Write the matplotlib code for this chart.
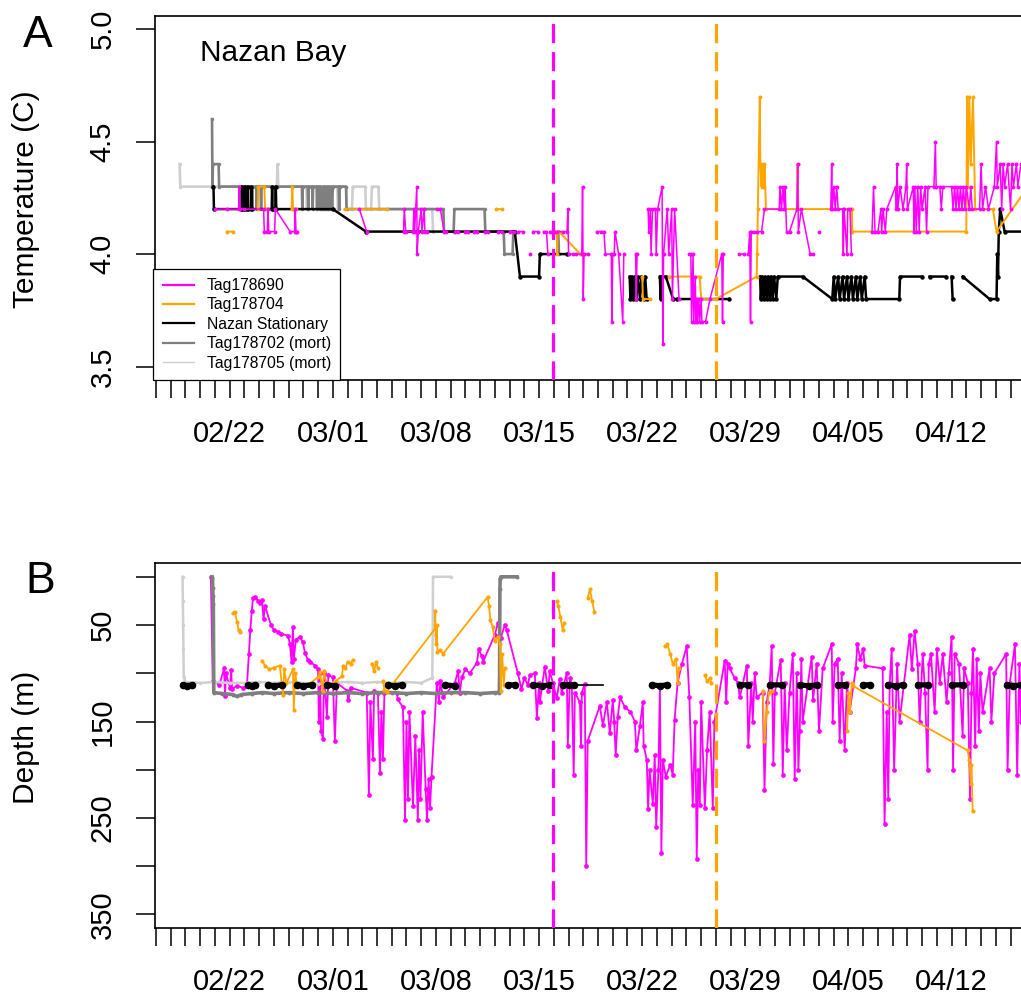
import numpy as np
import matplotlib
matplotlib.use("Agg")
import matplotlib.pyplot as plt
from matplotlib.lines import Line2D

plt.rcParams['font.family'] = ['Liberation Sans', 'DejaVu Sans']

nan = np.nan

# time axis: days since 2017-02-17
start = np.datetime64('2017-02-17')
week_labels = ['02/22', '03/01', '03/08', '03/15', '03/22', '03/29', '04/05', '04/12']
tag_release = {'Tag178690': 26.95, 'Tag178704': 38.0}

# ---- temperature (C), (day, value) ----
lgray_temp = [(1.60, 4.4), (1.65, 4.3), (8.20, 4.3), (8.25, 4.4), (8.30, 4.3), (10.2, 4.3), (10.25, 4.2),
              (10.3, 4.3), (11.5, 4.3), (11.55, 4.2), (11.6, 4.3), (12.3, 4.3), (12.35, 4.2), (12.45, 4.3),
              (12.9, 4.3), (12.95, 4.2), (13.3, 4.2), (13.35, 4.3), (14.2, 4.3), (14.25, 4.2), (14.6, 4.2),
              (14.65, 4.3), (15.1, 4.3), (15.15, 4.2), (18.75, 4.2), (18.8, 4.1)]

dgray_temp = [(3.80, 4.6), (3.83, 4.3), (3.86, 4.4), (4.25, 4.4), (4.28, 4.3), (5.9, 4.3), (5.93, 4.2),
              (5.96, 4.3), (6.2, 4.3), (6.23, 4.2), (6.26, 4.3), (6.5, 4.3), (6.53, 4.2), (6.56, 4.3),
              (6.8, 4.3), (6.83, 4.2), (6.86, 4.3), (7.1, 4.3), (7.13, 4.2), (7.16, 4.3), (9.9, 4.3),
              (9.93, 4.2), (9.96, 4.3), (10.3, 4.3), (10.33, 4.2), (10.36, 4.3), (10.6, 4.3), (10.63, 4.2),
              (10.66, 4.3), (10.9, 4.3), (10.93, 4.2), (10.96, 4.3), (11.1, 4.3), (11.13, 4.2), (11.16, 4.3),
              (11.25, 4.2), (11.3, 4.3), (11.35, 4.2), (11.4, 4.3), (11.45, 4.2), (11.5, 4.3), (11.55, 4.2),
              (11.6, 4.3), (11.65, 4.2), (11.7, 4.3), (11.75, 4.2), (11.8, 4.3), (11.85, 4.2), (11.9, 4.3),
              (11.95, 4.2), (12.0, 4.3), (12.4, 4.3), (12.43, 4.2), (12.46, 4.3), (12.9, 4.3), (12.93, 4.2),
              (19.5, 4.2), (19.55, 4.1), (20.2, 4.1), (20.25, 4.2), (22.3, 4.2), (22.35, 4.1), (23.6, 4.1),
              (23.65, 4.0), (24.2, 4.0), (24.25, 4.1), (24.3, 4.1), (nan, nan), (27.3, 4.1), (27.35, 4.0)]

blk_temp = [(3.9, 4.3), (3.93, 4.2), (5.8, 4.2), (5.83, 4.3), (5.86, 4.2), (6.0, 4.2), (6.03, 4.3),
            (6.06, 4.2), (6.2, 4.2), (6.23, 4.3), (6.26, 4.2), (6.45, 4.2), (6.48, 4.3), (6.51, 4.2),
            (7.85, 4.2), (7.88, 4.3), (7.91, 4.2), (8.1, 4.2), (8.13, 4.3), (8.16, 4.2), (12.0, 4.2),
            (14.25, 4.1), (24.35, 4.1), (24.7, 3.9), (26.0, 3.9), (26.05, 4.0), (27.9, 4.0), (nan, nan),
            (32.15, 3.9), (32.2, 3.8), (32.3, 3.9), (32.4, 3.8), (32.5, 3.9), (32.6, 3.8), (32.7, 3.9),
            (32.85, 3.8), (32.95, 3.9), (33.1, 3.8), (33.2, 3.9), (33.3, 3.8), (nan, nan),
            (34.2, 3.9), (34.25, 3.8), (34.3, 3.9), (34.6, 3.9), (35.1, 3.8), (35.35, 3.8), (38.9, 3.8),
            (nan, nan), (41.0, 3.9), (41.05, 3.8), (41.15, 3.9), (41.25, 3.8), (41.35, 3.9), (41.45, 3.8),
            (41.55, 3.9), (41.65, 3.8), (41.75, 3.9), (41.85, 3.8), (41.95, 3.9), (42.1, 3.8), (42.2, 3.9),
            (43.9, 3.9), (45.9, 3.8), (46.0, 3.9), (46.1, 3.8), (46.3, 3.9), (46.4, 3.8), (46.6, 3.9),
            (46.7, 3.8), (46.9, 3.9), (47.0, 3.8), (47.2, 3.9), (47.3, 3.8), (47.5, 3.9), (47.6, 3.8),
            (47.8, 3.9), (47.9, 3.8), (48.1, 3.9), (48.2, 3.8), (50.45, 3.8), (50.5, 3.9), (52.0, 3.9),
            (nan, nan), (52.5, 3.9), (53.6, 3.9), (nan, nan), (54.0, 3.9), (54.07, 3.8), (nan, nan),
            (54.75, 3.9), (56.58, 3.8), (57.05, 3.8), (57.1, 4.0), (57.15, 3.9), (57.2, 4.1), (57.3, 4.2),
            (57.6, 4.1), (59.2, 4.1)]

org_temp = [(4.8, 4.1), (5.2, 4.1), (nan, nan), (6.9, 4.2), (6.95, 4.3), (7.35, 4.3), (7.4, 4.2),
            (7.5, 4.2), (nan, nan), (9.2, 4.2), (9.25, 4.3), (9.3, 4.2), (9.5, 4.2), (nan, nan),
            (12.8, 4.2), (15.7, 4.2), (nan, nan), (23.1, 4.2), (23.5, 4.2), (nan, nan),
            (27.05, 4.1), (27.2, 4.1), (27.22, 4.0), (27.25, 4.1), (27.35, 4.1), (28.8, 4.0), (29.1, 4.0),
            (nan, nan), (33.0, 3.9), (33.05, 3.8), (33.5, 3.8), (nan, nan), (34.8, 3.9), (36.9, 3.9),
            (37.0, 3.8), (38.0, 3.8), (40.77, 3.9), (40.8, 4.0), (40.85, 4.2), (40.98, 4.7), (41.02, 4.4),
            (41.1, 4.3), (41.15, 4.4), (41.25, 4.3), (41.3, 4.4), (41.4, 4.2), (43.5, 4.2), (43.55, 4.4),
            (43.6, 4.2), (47.15, 4.2), (47.2, 4.1), (47.22, 4.2), (47.27, 4.1), (55.0, 4.1), (55.05, 4.7),
            (55.1, 4.3), (55.2, 4.7), (55.3, 4.4), (55.45, 4.7), (55.6, 4.2), (56.8, 4.2), (57.05, 4.1),
            (59.2, 4.3)]

mag_temp = [(4.0, 4.2), (4.8, 4.2), (5.6, 4.2), (5.65, 4.3), (5.7, 4.2), (6.0, 4.2),
            (7.3, 4.2), (7.35, 4.1), (7.55, 4.1), (7.6, 4.2), (7.65, 4.1), (8.05, 4.1), (8.1, 4.2),
            (9.1, 4.1), (9.4, 4.1), (9.45, 4.2), (9.5, 4.1), (9.6, 4.1), (nan, nan),
            (13.8, 4.2), (14.3, 4.1), (nan, nan),
            (16.8, 4.1), (16.85, 4.2), (16.95, 4.1), (17.45, 4.1), (17.5, 4.2), (17.55, 4.1), (17.7, 4.3),
            (17.72, 4.0), (17.8, 4.1), (18.0, 4.2), (18.05, 4.1), (18.2, 4.2), (18.25, 4.1), (18.4, 4.1),
            (nan, nan), (19.06, 4.2), (19.3, 4.2), (19.55, 4.1), (19.7, 4.1), (nan, nan),
            (20.3, 4.1), (20.5, 4.1), (nan, nan), (21.0, 4.1), (21.2, 4.1), (nan, nan),
            (21.6, 4.1), (21.8, 4.1), (nan, nan), (22.3, 4.1), (22.5, 4.1), (nan, nan),
            (23.2, 4.1), (23.5, 4.1), (nan, nan), (24.0, 4.1), (24.3, 4.1), (nan, nan),
            (24.6, 4.1), (24.9, 4.1), (nan, nan), (25.37, 4.0), (nan, nan), (25.6, 4.1), (25.9, 4.1),
            (nan, nan), (26.3, 4.1), (26.5, 4.1), (26.6, 4.0), (nan, nan), (26.75, 4.1), (27.0, 4.1),
            (27.2, 4.1), (27.6, 4.1), (27.9, 4.1), (27.95, 4.2), (28.0, 4.0), (28.3, 4.0), (28.5, 4.0),
            (28.9, 4.0), (28.95, 4.3), (29.0, 3.8), (29.05, 4.0), (29.3, 4.0), (nan, nan),
            (29.9, 4.1), (30.2, 4.1), (30.4, 4.1), (30.5, 4.0), (30.9, 4.0), (30.94, 3.7), (31.0, 4.0),
            (31.1, 4.0), (31.15, 4.1), (31.4, 4.0), (31.68, 3.7), (31.75, 4.0), (nan, nan),
            (32.55, 4.0), (32.6, 3.8), (32.65, 4.0), (nan, nan),
            (33.4, 4.2), (33.45, 4.1), (33.55, 4.2), (33.6, 4.0), (33.7, 4.2), (33.9, 4.2), (33.95, 4.0),
            (34.05, 4.2), (34.35, 4.3), (34.4, 3.6), (34.45, 4.0), (34.7, 4.2), (34.8, 4.0), (35.0, 4.2),
            (35.05, 3.8), (35.2, 4.2), (35.5, 3.8), (nan, nan),
            (36.2, 4.0), (36.3, 4.0), (36.35, 3.7), (36.45, 4.0), (36.5, 3.7), (36.6, 3.9), (36.65, 3.7),
            (36.7, 3.8), (36.75, 3.7), (36.85, 3.8), (36.9, 3.7), (37.0, 3.8), (37.05, 3.7), (37.3, 3.7),
            (37.6, 3.8), (38.4, 4.0), (38.45, 3.7), (38.5, 4.0), (nan, nan),
            (39.6, 4.0), (39.9, 4.0), (nan, nan), (40.2, 4.0), (40.3, 4.1), (40.35, 3.7), (40.4, 4.1),
            (40.6, 4.1), (nan, nan), (40.8, 4.1), (41.1, 4.1), (41.3, 4.2), (42.3, 4.2), (42.35, 4.3),
            (42.45, 4.2), (42.55, 4.3), (42.65, 4.2), (42.7, 4.3), (42.8, 4.1), (43.0, 4.1), (43.5, 4.2),
            (43.55, 4.4), (43.6, 4.1), (43.8, 4.2), (44.4, 4.0), (44.6, 4.0), (nan, nan),
            (45.0, 4.1), (nan, nan),
            (45.8, 4.2), (45.86, 4.4), (45.9, 4.2), (46.0, 4.3), (46.1, 4.2), (46.2, 4.3), (46.3, 4.2),
            (46.6, 4.2), (46.65, 4.0), (46.7, 4.2), (46.9, 4.0), (46.95, 4.2), (47.1, 4.2), (47.2, 4.0),
            (nan, nan), (48.6, 4.1), (48.7, 4.3), (48.8, 4.1), (49.0, 4.1), (49.2, 4.2), (49.25, 4.1),
            (49.35, 4.2), (49.5, 4.1), (49.6, 4.2), (50.2, 4.3), (50.25, 4.2), (50.3, 4.4), (50.35, 4.2),
            (50.5, 4.3), (50.7, 4.2), (50.9, 4.3), (50.95, 4.4), (51.0, 4.2), (51.4, 4.3), (51.45, 4.1),
            (51.5, 4.3), (51.6, 4.1), (51.7, 4.3), (51.8, 4.1), (51.9, 4.3), (52.0, 4.2), (52.2, 4.3),
            (52.3, 4.1), (52.4, 4.3), (52.8, 4.3), (52.9, 4.5), (52.95, 4.3), (53.2, 4.3), (53.3, 4.2),
            (53.4, 4.3), (54.0, 4.3), (54.1, 4.2), (54.2, 4.3), (54.3, 4.2), (54.4, 4.3), (54.5, 4.2),
            (54.6, 4.3), (54.7, 4.2), (54.8, 4.3), (54.9, 4.2), (55.0, 4.3), (55.2, 4.2), (55.3, 4.3),
            (55.4, 4.2), (55.9, 4.2), (56.0, 4.4), (56.1, 4.2), (56.3, 4.3), (56.5, 4.2), (56.9, 4.3),
            (57.05, 4.5), (57.1, 4.3), (57.3, 4.4), (57.4, 4.2), (57.5, 4.4), (57.6, 4.3), (57.8, 4.4),
            (58.0, 4.2), (58.1, 4.4), (58.2, 4.3), (58.4, 4.4), (58.5, 4.3), (58.7, 4.4)]

# ---- depth (m), (day, value) ----
lgray_depth = [(1.80, 0), (1.82, 25), (1.84, 50), (1.86, 75), (1.88, 104), (2.0, 109), (3.0, 110), (4.0, 109),
               (5.0, 110), (6.0, 110), (7.0, 109), (8.0, 110), (9.0, 109), (10.0, 110), (11.0, 111),
               (12.0, 110), (13.0, 109), (14.0, 110), (15.0, 109), (16.0, 110), (17.0, 109), (18.0, 110),
               (18.7, 105), (18.75, 104), (18.78, 60), (18.8, 0), (20.0, 0)]

dgray_depth = [(3.8, 0), (3.83, 2), (3.85, 12), (3.87, 20), (3.89, 28), (3.92, 120), (4.5, 121), (5.2, 122),
               (5.5, 124), (5.8, 122), (6.5, 121), (7.2, 120), (8.0, 121), (9.0, 120), (10.0, 121),
               (11.0, 120), (12.0, 121), (13.0, 120), (14.0, 121), (15.0, 120), (16.0, 120), (17.0, 121),
               (18.0, 120), (19.0, 121), (20.0, 120), (21.0, 120), (22.0, 121), (23.0, 120), (23.3, 120),
               (23.32, 100), (23.34, 13), (23.36, 2), (23.4, 0), (24.5, 0)]

blk_depth = [(1.83, 112), (2.1, 113), (2.44, 112), (nan, nan), (6.24, 112), (6.5, 113), (6.72, 112), (nan, nan),
             (7.6, 112), (8.0, 113), (8.55, 112), (nan, nan), (9.57, 112), (10.0, 113), (10.58, 112),
             (nan, nan), (11.6, 112), (12.14, 113), (nan, nan), (15.74, 112), (16.2, 113), (16.69, 112),
             (nan, nan), (19.6, 112), (20.28, 113), (nan, nan), (23.88, 112), (24.36, 112), (nan, nan),
             (25.58, 112), (26.2, 113), (26.73, 112), (nan, nan), (27.61, 112), (28.0, 112), (28.4, 112),
             (nan, nan), (33.65, 112), (34.2, 113), (34.67, 112), (nan, nan),
             (39.62, 112), (40.16, 112), (nan, nan), (41.66, 112), (42.47, 112), (nan, nan),
             (43.69, 112), (44.3, 113), (44.84, 112), (nan, nan), (46.27, 112), (46.74, 112), (nan, nan),
             (47.96, 112), (48.44, 112), (nan, nan), (49.66, 112), (50.2, 113), (50.68, 112), (nan, nan),
             (51.7, 112), (52.37, 112), (nan, nan), (54.0, 112), (54.75, 112), (nan, nan),
             (57.73, 112), (58.2, 113), (58.68, 112)]
# thin stationary link between readings on 03/18-03/20
blk_link = [(28.4, 112), (30.33, 112)]

org_depth = [(5.2, 38), (5.35, 36), (5.5, 47), (5.6, 55), (5.7, 57), (nan, nan),
             (7.19, 87), (7.4, 92), (7.7, 96), (8.0, 94), (8.4, 92), (8.62, 123), (8.7, 96), (8.85, 110),
             (9.29, 96), (9.35, 138), (9.45, 100), (9.57, 113), (10.5, 110), (11.0, 104), (11.13, 99),
             (11.3, 118), (11.4, 98), (11.6, 113), (12.2, 108), (12.62, 103), (12.7, 92), (12.85, 95),
             (13.0, 88), (13.2, 90), (13.36, 86), (nan, nan),
             (14.65, 90), (14.8, 98), (14.95, 88), (15.06, 95), (nan, nan),
             (15.4, 108), (15.5, 117), (15.67, 119), (18.93, 54), (18.95, 35), (19.0, 70), (19.06, 50),
             (19.1, 78), (19.3, 76), (19.47, 80), (22.5, 21), (22.6, 30), (22.7, 45), (22.85, 52),
             (23.0, 67), (23.2, 62), (23.34, 70), (23.4, 118), (23.5, 80), (23.6, 112), (23.68, 95),
             (nan, nan), (27.2, 25), (27.3, 30), (27.45, 42), (27.6, 55), (27.7, 48), (nan, nan),
             (29.3, 22), (29.45, 13), (29.6, 25), (29.75, 36), (nan, nan),
             (34.53, 72), (34.7, 70), (34.9, 80), (35.07, 90), (35.3, 85), (35.4, 110), (35.5, 95),
             (nan, nan), (37.25, 102), (37.4, 108), (37.58, 105), (37.7, 110), (nan, nan),
             (41.18, 118), (41.3, 170), (41.45, 140), (41.6, 120), (41.79, 118), (nan, nan),
             (46.9, 160), (47.0, 120), (47.1, 140), (47.22, 110), (47.29, 113), (55.09, 180), (55.2, 190),
             (55.3, 215), (55.35, 195), (55.43, 243)]

mag_depth = [(3.72, 0), (3.85, 108), (4.3, 112), (4.62, 95), (4.68, 124), (4.75, 100), (5.02, 115), (5.1, 97),
             (5.16, 116), (5.5, 113), (5.9, 115), (6.17, 113), (6.3, 80), (6.4, 55), (6.5, 35), (6.58, 22),
             (6.75, 21), (6.92, 25), (7.05, 27), (7.19, 24), (7.3, 44), (7.39, 30), (7.8, 50), (8.0, 55),
             (8.28, 57), (8.5, 59), (8.96, 61), (9.09, 70), (9.2, 88), (9.29, 52), (9.35, 85), (9.5, 65),
             (9.77, 62), (9.97, 68), (10.11, 79), (10.3, 86), (10.45, 88), (10.8, 92), (11.0, 96),
             (11.05, 150), (11.13, 100), (11.2, 160), (11.33, 168), (11.4, 100), (11.6, 145), (11.7, 102),
             (12.0, 104), (12.14, 170), (12.28, 110), (12.96, 118), (13.05, 128), (13.2, 115), (14.3, 120),
             (14.45, 226), (14.55, 130), (14.72, 189), (14.8, 118), (15.06, 120), (15.2, 203), (15.3, 140),
             (15.4, 189), (15.5, 120), (16.35, 120), (16.4, 127), (16.76, 135), (16.9, 252), (17.0, 150),
             (17.1, 230), (17.2, 140), (17.44, 238), (17.6, 165), (17.77, 252), (17.85, 180), (17.95, 230),
             (18.1, 140), (18.3, 220), (18.39, 252), (18.5, 210), (18.6, 240), (18.7, 207), (19.06, 110),
             (19.2, 130), (19.3, 108), (19.47, 125), (20.28, 110), (20.5, 98), (20.62, 120), (20.76, 104),
             (21.0, 96), (21.3, 100), (21.78, 89), (21.9, 75), (22.1, 82), (22.2, 88), (23.0, 60),
             (23.2, 48), (23.4, 63), (23.68, 50), (23.8, 55), (24.56, 100), (24.8, 116), (25.0, 105),
             (25.24, 112), (25.37, 102), (25.71, 100), (25.85, 146), (26.0, 110), (26.05, 130), (26.39, 93),
             (26.6, 118), (26.73, 98), (26.93, 110), (27.2, 126), (27.4, 106), (27.54, 120), (27.88, 100),
             (27.95, 175), (28.09, 105), (28.22, 111), (28.35, 205), (28.43, 120), (28.77, 130),
             (28.85, 175), (28.9, 120), (29.1, 111), (29.2, 300), (29.3, 170), (30.12, 134), (30.33, 154),
             (30.6, 130), (30.8, 162), (31.0, 128), (31.1, 150), (31.2, 185), (31.34, 145), (31.5, 125),
             (31.82, 135), (32.2, 140), (32.5, 150), (32.6, 180), (32.84, 155), (33.04, 130), (33.1, 175),
             (33.31, 190), (33.4, 241), (33.5, 200), (33.72, 235), (33.85, 185), (33.95, 259), (34.1, 200),
             (34.2, 114), (34.3, 286), (34.4, 190), (34.6, 207), (34.9, 195), (35.07, 205), (35.2, 148),
             (35.4, 110), (35.7, 90), (36.02, 72), (36.2, 125), (36.43, 236), (36.6, 150), (36.7, 293),
             (36.8, 200), (36.91, 236), (37.0, 130), (37.25, 240), (37.4, 180), (37.58, 140), (37.79, 240),
             (37.9, 150), (38.6, 87), (38.7, 130), (38.8, 90), (38.94, 95), (39.28, 105), (39.5, 110),
             (39.62, 125), (40.1, 92), (40.2, 175), (40.4, 110), (40.5, 150), (40.64, 100), (40.77, 125),
             (41.18, 120), (41.3, 221), (41.45, 130), (41.66, 110), (41.79, 72), (41.9, 194), (42.0, 120),
             (42.4, 86), (42.54, 205), (42.67, 110), (42.81, 180), (43.0, 120), (43.22, 80), (43.35, 210),
             (43.49, 100), (43.6, 200), (43.69, 160), (43.8, 85), (43.89, 150), (44.5, 83), (44.6, 128),
             (44.84, 90), (45.0, 160), (45.25, 95), (45.86, 70), (45.93, 150), (46.06, 90), (46.27, 85),
             (46.4, 170), (46.54, 100), (46.74, 180), (46.9, 110), (47.08, 140), (47.5, 95), (47.6, 70),
             (47.8, 85), (48.0, 75), (48.1, 92), (49.32, 95), (49.45, 256), (49.6, 140), (49.7, 230),
             (49.8, 110), (49.93, 75), (50.1, 200), (50.3, 90), (50.47, 150), (51.15, 60), (51.3, 96),
             (51.49, 56), (51.7, 90), (51.83, 150), (52.04, 80), (52.2, 120), (52.37, 200), (52.45, 90),
             (52.6, 80), (52.85, 140), (53.0, 75), (53.2, 110), (53.4, 80), (53.66, 130), (53.8, 100),
             (54.0, 62), (54.1, 200), (54.21, 80), (54.5, 90), (54.75, 165), (54.85, 95), (55.1, 110),
             (55.25, 230), (55.35, 120), (55.45, 75), (55.6, 175), (55.7, 85), (55.85, 160), (55.95, 100),
             (56.1, 140), (56.58, 95), (56.7, 150), (56.9, 100), (57.7, 80), (57.8, 200), (57.95, 110),
             (58.3, 70), (58.45, 205), (58.6, 90), (58.7, 150)]

MAG = '#FF00FF'
ORG = '#FFA500'
DGRAY = '#7F7F7F'
LGRAY = '#CFCFCF'


def split(pairs):
    a = np.array(pairs, dtype=float)
    return a[:, 0], a[:, 1]


def week_day(label):
    d = np.datetime64('2017-' + label.replace('/', '-'))
    return (d - start) / np.timedelta64(1, 'D')


fig = plt.figure(figsize=(10.21, 10.0), dpi=100)
W = 885.0 / 1021
axA = fig.add_axes([155 / 1021, 1 - 380 / 1000, W, 364.3 / 1000])
axB = fig.add_axes([155 / 1021, 1 - 928 / 1000, W, 364.7 / 1000])

# panel A: temperature
series_A = [(lgray_temp, LGRAY, 1.9, 2.5), (dgray_temp, DGRAY, 1.9, 2.5), (blk_temp, 'black', 1.8, 3.2),
            (org_temp, ORG, 1.4, 2.8), (mag_temp, MAG, 1.1, 2.8)]
for pairs, col, lw, ms in series_A:
    x, y = split(pairs)
    axA.plot(x, y, '-o', color=col, lw=lw, ms=ms, mew=0)

# panel B: depth
series_B = [(mag_depth, MAG, 1.3, 3.4), (lgray_depth, LGRAY, 1.8, 2.5), (dgray_depth, DGRAY, 2.6, 2.8),
            (org_depth, ORG, 1.3, 3.0)]
for pairs, col, lw, ms in series_B:
    x, y = split(pairs)
    axB.plot(x, y, '-o', color=col, lw=lw, ms=ms, mew=0)
x, y = split(blk_link)
axB.plot(x, y, '-', color='black', lw=1.2)
x, y = split(blk_depth)
axB.plot(x, y, '-o', color='black', lw=3.8, ms=5.5, mew=0, solid_capstyle='round')

days = np.arange(0, 60)
week_pos = [week_day(s) for s in week_labels]
for ax in (axA, axB):
    ax.axvline(tag_release['Tag178690'], color=MAG, lw=2.3, dashes=(6, 2.8), zorder=5)
    ax.axvline(tag_release['Tag178704'], color=ORG, lw=2.3, dashes=(6, 2.8), zorder=5)
    ax.set_xlim(-0.07, 60)
    ax.set_xticks(week_pos)
    ax.set_xticklabels(week_labels)
    ax.set_xticks(days, minor=True)
    ax.tick_params(axis='x', which='both', length=13, width=1.1, direction='out', pad=15.5,
                   labelsize=21)
    ax.tick_params(axis='y', length=13.5, width=1.1, direction='out', pad=14, labelsize=21,
                   labelrotation=90)
    ax.spines['right'].set_visible(False)
    for s in ('left', 'top', 'bottom'):
        ax.spines[s].set_linewidth(1.2)

axA.set_ylim(3.44, 5.06)
axA.set_yticks([3.5, 4.0, 4.5, 5.0])
axA.set_yticklabels(['3.5', '4.0', '4.5', '5.0'], va='center')

axB.set_ylim(364, -14)
axB.set_yticks(np.arange(0, 351, 50))
axB.set_yticklabels(['' if v % 100 == 0 else str(v) for v in np.arange(0, 351, 50)], va='center')

handles = [Line2D([], [], color=MAG, lw=1.6), Line2D([], [], color=ORG, lw=1.6),
           Line2D([], [], color='black', lw=1.6), Line2D([], [], color=DGRAY, lw=1.6),
           Line2D([], [], color=LGRAY, lw=1.0)]
names = ['Tag178690', 'Tag178704', 'Nazan Stationary', 'Tag178702 (mort)', 'Tag178705 (mort)']
leg = axA.legend(handles, names, loc='lower left', bbox_to_anchor=(-0.002, 0), borderaxespad=0,
                 fontsize=11.3, handlelength=2.0, handletextpad=0.8, labelspacing=0.28,
                 borderpad=0.6, fancybox=False, framealpha=1, edgecolor='black')
leg.get_frame().set_linewidth(0.9)
leg.set_zorder(10)

fig.text(200 / 1021, 1 - 61 / 1000, 'Nazan Bay', fontsize=21.5, va='baseline')
fig.text(23 / 1021, 1 - 46.7 / 1000, 'A', fontsize=32, va='baseline')
fig.text(25 / 1021, 1 - 593.3 / 1000, 'B', fontsize=32, va='baseline')
fig.text(26 / 1021, 1 - 199.5 / 1000, 'Temperature (C)', fontsize=21.5, rotation=90, ha='center', va='center')
fig.text(26 / 1021, 1 - 737 / 1000, 'Depth (m)', fontsize=21.5, rotation=90, ha='center', va='center')

fig.savefig('out.png', dpi=100)
